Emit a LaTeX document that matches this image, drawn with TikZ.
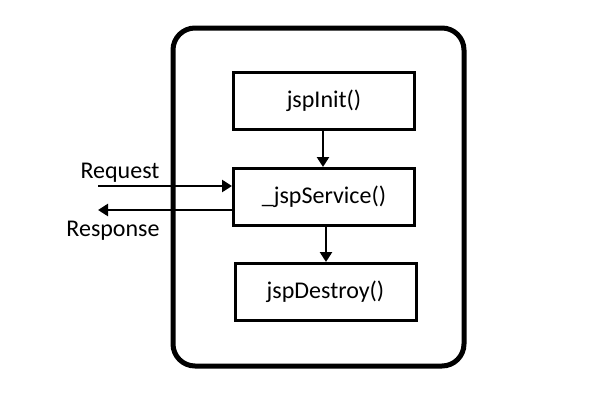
\documentclass[tikz,border=0pt]{standalone}
\usepackage{fontspec}
\setmainfont{Carlito}
\usetikzlibrary{arrows.meta}
\begin{document}
\begin{tikzpicture}[x=1pt,y=-1pt,
  lbl/.style={font=\fontsize{24}{28}\selectfont, inner sep=0pt},
  stagebox/.style={draw, line width=3pt, minimum width=181pt, minimum height=57pt, inner sep=0pt, font=\fontsize{24}{28}\selectfont},
  conn/.style={line width=2.5pt, -{Triangle[length=10pt,width=12pt]}}]
\useasboundingbox (0,0) rectangle (603,418);
\node[draw, line width=5pt, rounded corners=22pt, minimum width=291pt, minimum height=338pt, inner sep=0pt] (outer) at (318.5,197) {};
\node[stagebox] (init) at (324,101) {jspInit()};
\node[stagebox] (svc) at (324,197) {\_jspService()};
\node[stagebox] (dest) at (325.5,292) {jspDestroy()};
\coordinate (reqstart) at (98,186);
\coordinate (respend) at (98,210);
\draw[conn] ([xshift=-1pt]init.south) -- ([xshift=-1pt]init.south |- svc.north);
\draw[conn] ([xshift=2pt]svc.south) -- ([xshift=2pt]svc.south |- dest.north);
\draw[conn] (reqstart) -- (reqstart -| svc.west);
\draw[conn] (respend -| svc.west) -- (respend);
\node[lbl] (req) at (120,173) {Request};
\node[lbl] (resp) at (113,231) {Response};
\end{tikzpicture}
\end{document}
